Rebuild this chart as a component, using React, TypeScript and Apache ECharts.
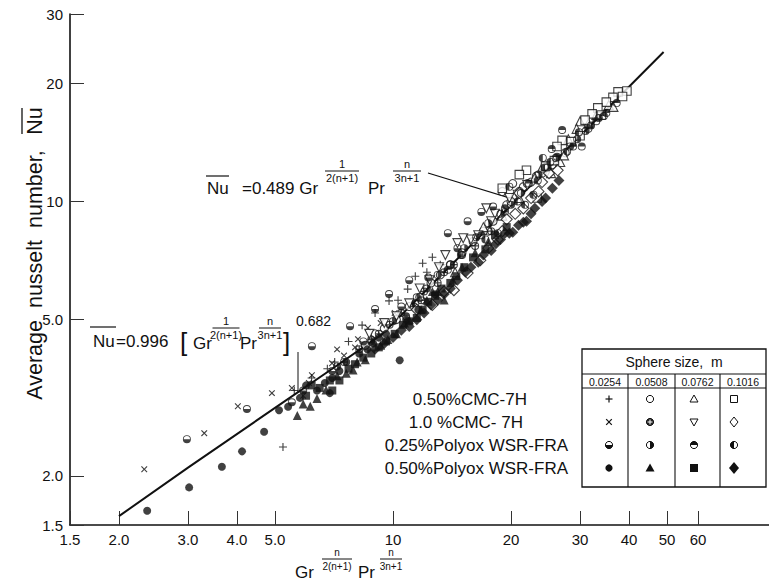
import React, { useEffect, useRef } from 'react';
import * as echarts from 'echarts';

const xTicks = [1.5, 2, 3, 4, 5, 10, 20, 30, 40, 50, 60];
const xTickLabels = ['1.5', '2.0', '3.0', '4.0', '5.0', '10', '20', '30', '40', '50', '60'];
const yTicks = [1.5, 2, 5, 10, 20, 30];
const yTickLabels = ['1.5', '2.0', '5.0', '10', '20', '30'];

const fitLine = [[2.0, 1.58], [3, 2.1], [5, 2.98], [7, 3.75], [9.4, 4.6], [20, 9.78], [49, 24]];

const cmc050_d0254 = [[5.24, 2.37], [8.34, 4.84], [9.77, 5.58], [10.9, 5.98], [11.4, 6.45], [11.9, 6.96], [12.6, 7.21], [6.2, 3.55], [7.1, 3.9], [5.6, 3.3], [6.8, 3.75], [13.2, 6.9], [9.0, 5.2], [10.3, 5.6], [7.7, 4.4], [12.2, 6.6]];
const cmc050_d0508 = [[8.5, 4.3], [9.5, 4.75], [11, 5.4], [12.5, 6.2], [14, 6.9], [16, 7.9], [18, 8.9], [19.5, 9.8], [20.5, 10.3], [21.5, 10.9], [22.5, 11.2], [24, 11.8], [19, 10.6], [20.2, 11.1], [22, 11.1], [17.5, 8.4], [10.2, 5.0], [11.7, 5.7], [13.2, 6.5], [15.0, 7.4], [17.0, 8.4], [23.2, 11.6], [25.5, 12.4], [27.5, 13.3], [9.0, 4.6], [20, 10.0], [21, 10.6]];
const cmc050_d0762 = [[30.0, 16.0], [29.4, 15.3], [26.7, 12.6], [25.3, 11.8], [28.0, 14.4], [14.4, 6.6], [17, 8.6], [19, 9.2], [21, 10.2], [23, 11.5], [31.5, 15.8], [33, 16.6], [24, 12.2], [27.3, 13.1], [35.5, 17.6], [36.5, 17.4]];
const cmc050_d1016 = [[39.5, 19.1], [37.5, 19.0], [36.4, 18.4], [35, 17.9], [33.3, 17.3], [32.2, 16.7], [30.9, 16.1], [27.0, 14.3], [23.3, 10.2], [21.9, 12.0], [21.0, 11.7], [19.0, 10.8], [24.5, 12.3], [28.5, 14.2], [30, 14.7], [25.8, 12.7], [34, 16.6], [38.5, 18.5], [26.2, 13.8]];

const cmc100_d0254 = [[2.32, 2.08], [3.30, 2.57], [4.02, 3.01], [4.91, 3.25], [5.52, 3.35], [6.21, 3.61], [6.99, 3.87], [8.14, 4.46], [8.63, 4.76], [6.1, 3.45], [5.9, 3.2], [7.5, 4.05], [9.3, 4.9], [10.1, 5.2], [7.2, 4.2], [8.0, 4.25]];
const cmc100_d0508 = [[7.5, 3.9], [9.2, 4.6], [10.5, 5.2], [12, 5.9], [13.5, 6.6], [15, 7.3], [8.2, 4.2], [11.3, 5.4], [9.8, 4.85], [11.8, 5.6], [13, 6.2], [14.3, 6.9], [16.2, 7.7], [17.8, 8.4], [8.8, 4.45], [19.3, 9.4]];
const cmc100_d0762 = [[14.6, 7.83], [15.1, 8.06], [13.6, 7.30], [12.4, 6.3], [16.5, 8.2], [18.2, 9.3], [19.8, 10.2], [11.0, 5.5], [10.2, 5.1], [17.3, 9.6], [11.7, 6.0], [13.1, 6.8], [15.8, 8.0], [17.8, 8.9], [20.8, 10.4], [22, 11], [9.5, 4.9], [8.7, 4.6]];
const cmc100_d1016 = [[15.5, 6.57], [14.3, 5.94], [12.6, 5.45], [16.7, 7.08], [18.5, 8.0], [20.5, 9.3], [22.5, 10.2], [21, 10.5], [24, 11.2], [19.5, 9.0], [13.5, 5.9], [17.5, 7.6], [19.0, 8.4], [21.5, 9.6], [23.5, 10.6], [25, 11.8], [26.3, 12.0], [11.5, 5.3]];

const pol025_d0254 = [[2.98, 2.48], [4.24, 2.96], [5.52, 3.08], [6.21, 4.28], [7.77, 4.81], [9.0, 5.32], [9.77, 5.81], [13.8, 8.30], [15.5, 8.9], [11.0, 6.3], [5.9, 3.3], [16.8, 9.4], [8.4, 4.4], [10.5, 5.4], [12.3, 6.4], [14.6, 7.6], [7.0, 3.7], [18, 9.7]];
const pol025_d0508 = [[7.2, 3.8], [8.8, 4.4], [10, 4.95], [11.5, 5.7], [13, 6.5], [15.2, 7.6], [17.5, 8.8], [20, 9.8], [23.5, 11.7], [26, 12.9], [28.3, 13.8], [31, 15.1], [33.5, 16.3], [12.2, 6.0], [14, 6.9], [16.3, 8.1], [18.8, 9.3], [21.2, 10.5], [24.8, 12.2], [29.5, 14.4], [32, 15.6]];
const pol025_d0762 = [[37.2, 17.8], [35.0, 16.8], [33.0, 16.0], [30.3, 13.8], [28.8, 13.8], [27.0, 15.2], [25.4, 13.6], [10.8, 5.1], [13.8, 6.7], [16.8, 8.2], [19.3, 9.6], [22.2, 11.1], [26.2, 13.0], [31.5, 15.3], [34.5, 16.5]];
const pol025_d1016 = [[24.1, 12.9], [25.2, 12.6], [24.4, 12.2], [21.7, 9.8], [18.5, 8.3], [19.8, 10.9], [17.2, 8.0], [22.8, 10.4], [11.4, 5.5], [14.9, 7.3], [20.8, 10.0], [23.4, 11.3], [27.8, 13.4], [29.8, 15.0]];

const pol050_d0254 = [[2.36, 1.63], [3.02, 1.87], [3.66, 2.11], [4.12, 2.31], [4.69, 2.59], [5.12, 2.94], [5.79, 3.16], [10.4, 3.94], [6.4, 3.3], [7.0, 3.55], [7.6, 3.9], [8.2, 4.1], [8.9, 4.35], [9.6, 4.6], [6.0, 3.4], [6.7, 3.45], [7.3, 3.7], [8.6, 4.2], [9.2, 4.5], [10.8, 5.0], [11.6, 5.3], [12.8, 5.8], [5.4, 3.0], [6.9, 3.25]];
const pol050_d0508 = [[6.15, 3.01], [6.75, 3.31], [7.91, 3.72], [13.5, 5.61], [7.2, 3.6], [8.5, 3.95], [9.3, 4.3], [10.2, 4.6], [11, 5.0], [11.8, 5.3], [12.6, 5.9], [14.2, 6.3], [5.7, 2.85], [6.4, 3.15], [7.6, 3.65], [8.1, 3.9], [9.7, 4.45], [10.7, 4.9], [12.2, 5.6], [13.0, 5.9], [15.0, 6.8], [16.2, 7.4], [17.5, 7.9], [5.9, 3.05]];
const pol050_d0762 = [[6.0, 3.2], [6.5, 3.35], [7.3, 3.5], [8.0, 3.85], [8.8, 4.1], [9.6, 4.4], [10.6, 4.85], [11.5, 5.05], [12.3, 5.55], [13.3, 6.0], [14.5, 6.45], [16, 7.2], [17.2, 7.55], [6.2, 3.4], [6.9, 3.5], [7.7, 3.75], [8.4, 4.0], [9.2, 4.25], [10.1, 4.6], [11.0, 4.95], [11.9, 5.3], [12.8, 5.75], [14.0, 6.2], [15.2, 6.8], [18.2, 8.2], [19.5, 8.6], [7.0, 3.3]];
const pol050_d1016 = [[21.9, 8.9], [20.9, 8.7], [19.8, 8.3], [21.5, 8.85], [20.2, 8.35], [9.0, 4.2], [10.0, 4.5], [11.0, 4.8], [12.0, 5.2], [13.0, 5.6], [14.0, 6.0], [15.3, 6.6], [16.5, 7.0], [17.8, 7.5], [18.8, 8.0], [23.0, 9.6], [24.5, 10.2], [9.5, 4.35], [10.5, 4.7], [11.5, 5.0], [12.5, 5.45], [13.5, 5.8], [14.6, 6.3], [15.8, 6.8], [17.0, 7.3], [18.3, 7.8], [19.3, 8.3], [22.5, 9.3], [24.0, 10.0], [25.5, 10.8], [26.5, 11.3]];

const fluidLabels = ['0.50%CMC-7H', '1.0 %CMC- 7H', '0.25%Polyox WSR-FRA', '0.50%Polyox WSR-FRA'];
const sizeLabels = ['0.0254', '0.0508', '0.0762', '0.1016'];

const FONT = 'Liberation Sans, Arial, sans-serif';
const INK = '#111';
const L = Math.log10;
const toLog = (a: number[][]) => a.map(([x, y]) => [L(x), L(y)]);

const PLUS = 'path://M-1.4,-10H1.4V-1.4H10V1.4H1.4V10H-1.4V1.4H-10V-1.4H-1.4Z';
const OPLUS = 'path://M0,-10A10,10,0,1,1,0,10A10,10,0,1,1,0,-10ZM0,-7.5A7.5,7.5,0,1,0,0,7.5A7.5,7.5,0,1,0,0,-7.5ZM-7.5,-1.6H7.5V1.6H-7.5ZM-1.6,-7.5H1.6V7.5H-1.6Z';
const HALF = 'path://M0,-10A10,10,0,1,1,0,10A10,10,0,1,1,0,-10ZM0,-7.8A7.8,7.8,0,1,0,0,7.8A7.8,7.8,0,1,0,0,-7.8ZM-7.8,0A7.8,7.8,0,0,0,7.8,0Z';

function labelFor(v: number, ticks: number[], labels: string[]) {
  for (let i = 0; i < ticks.length; i++) if (Math.abs(L(ticks[i]) - v) < 1e-6) return labels[i];
  return '';
}

type Def = { data: number[][]; symbol: string; size: number; rotate?: number; open?: boolean };
const defs: Def[] = [
  { data: cmc050_d0254, symbol: PLUS, size: 8 },
  { data: cmc050_d0508, symbol: 'circle', size: 8, open: true },
  { data: cmc050_d0762, symbol: 'triangle', size: 9, open: true },
  { data: cmc050_d1016, symbol: 'rect', size: 8.5, open: true },
  { data: cmc100_d0254, symbol: PLUS, size: 8, rotate: 45 },
  { data: cmc100_d0508, symbol: OPLUS, size: 8 },
  { data: cmc100_d0762, symbol: 'triangle', size: 9, rotate: 180, open: true },
  { data: cmc100_d1016, symbol: 'diamond', size: 11, open: true },
  { data: pol025_d0254, symbol: HALF, size: 8 },
  { data: pol025_d0508, symbol: HALF, size: 8, rotate: 90 },
  { data: pol025_d0762, symbol: HALF, size: 8, rotate: 180 },
  { data: pol025_d1016, symbol: HALF, size: 8, rotate: 270 },
  { data: pol050_d0254, symbol: 'circle', size: 8 },
  { data: pol050_d0508, symbol: 'triangle', size: 9 },
  { data: pol050_d0762, symbol: 'rect', size: 8 },
  { data: pol050_d1016, symbol: 'diamond', size: 11 },
];

function txt(text: string, x: number, y: number, size: number, align = 'left', extra: any = {}) {
  return {
    type: 'text', x, y, silent: true, ...extra,
    style: { text, font: `${size}px ${FONT}`, fill: INK, align, verticalAlign: 'middle', textAlign: align, textVerticalAlign: 'middle' },
  };
}
function ln(x1: number, y1: number, x2: number, y2: number, w = 1.2) {
  return { type: 'line', silent: true, shape: { x1, y1, x2, y2 }, style: { stroke: INK, lineWidth: w } };
}
function frac(num: string, den: string, cx: number, cy: number, w: number, fs = 11) {
  return [txt(num, cx, cy - 7, fs, 'center'), ln(cx - w / 2, cy, cx + w / 2, cy, 1), txt(den, cx, cy + 7, fs, 'center')];
}

function legendSymbol(kind: number, row: number, cx: number, cy: number): any[] {
  const r = 3.6;
  const sty = (fill: string) => ({ fill, stroke: INK, lineWidth: 1 });
  if (row === 0) {
    if (kind === 0) return [ln(cx - 3.5, cy, cx + 3.5, cy), ln(cx, cy - 3.5, cx, cy + 3.5)];
    if (kind === 1) return [{ type: 'circle', shape: { cx, cy, r }, style: sty('#fff') }];
    if (kind === 2) return [{ type: 'polygon', shape: { points: [[cx, cy - 4], [cx + 4, cy + 3], [cx - 4, cy + 3]] }, style: sty('#fff') }];
    return [{ type: 'rect', shape: { x: cx - 3.5, y: cy - 3.5, width: 7, height: 7 }, style: sty('#fff') }];
  }
  if (row === 1) {
    if (kind === 0) return [ln(cx - 2.8, cy - 2.8, cx + 2.8, cy + 2.8), ln(cx - 2.8, cy + 2.8, cx + 2.8, cy - 2.8)];
    if (kind === 1) return [
      { type: 'circle', shape: { cx, cy, r }, style: sty('#222') },
      { type: 'line', shape: { x1: cx - 2.5, y1: cy, x2: cx + 2.5, y2: cy }, style: { stroke: '#fff', lineWidth: 1 } },
      { type: 'line', shape: { x1: cx, y1: cy - 2.5, x2: cx, y2: cy + 2.5 }, style: { stroke: '#fff', lineWidth: 1 } },
    ];
    if (kind === 2) return [{ type: 'polygon', shape: { points: [[cx - 4, cy - 3], [cx + 4, cy - 3], [cx, cy + 4]] }, style: sty('#fff') }];
    return [{ type: 'polygon', shape: { points: [[cx, cy - 5], [cx + 4, cy], [cx, cy + 5], [cx - 4, cy]] }, style: sty('#fff') }];
  }
  if (row === 2) {
    const starts = [0, -Math.PI / 2, Math.PI, Math.PI / 2];
    const s = starts[kind];
    return [
      { type: 'circle', shape: { cx, cy, r }, style: sty('#fff') },
      { type: 'sector', shape: { cx, cy, r0: 0, r, startAngle: s, endAngle: s + Math.PI, clockwise: true }, style: { fill: INK } },
    ];
  }
  if (kind === 0) return [{ type: 'circle', shape: { cx, cy, r }, style: { fill: INK } }];
  if (kind === 1) return [{ type: 'polygon', shape: { points: [[cx, cy - 4.5], [cx + 4.5, cy + 3.5], [cx - 4.5, cy + 3.5]] }, style: { fill: INK } }];
  if (kind === 2) return [{ type: 'rect', shape: { x: cx - 4, y: cy - 4, width: 8, height: 8 }, style: { fill: INK } }];
  return [{ type: 'polygon', shape: { points: [[cx, cy - 6], [cx + 5, cy], [cx, cy + 6], [cx - 5, cy]] }, style: { fill: INK } }];
}

function buildGraphic() {
  const g: any[] = [];
  // y axis title
  g.push(txt('Average  nusselt  number,', 35, 275, 21.5, 'center', { rotation: Math.PI / 2 }));
  g.push(txt('Nu', 35, 121, 21.5, 'center', { rotation: Math.PI / 2 }));
  g.push(ln(22, 108, 22, 134, 1.3));
  // x axis title
  g.push(txt('Gr', 295, 572, 17));
  g.push(...frac('n', '2(n+1)', 337, 559, 30, 10));
  g.push(txt('Pr', 358, 572, 17));
  g.push(...frac('n', '3n+1', 391, 559, 22, 10));
  // annotation upper
  g.push(txt('Nu', 207, 188, 17));
  g.push(ln(206, 176, 229, 176, 1.2));
  g.push(txt('=0.489 Gr', 242, 188, 17));
  g.push(...frac('1', '2(n+1)', 342, 171, 34));
  g.push(txt('Pr', 368, 188, 17));
  g.push(...frac('n', '3n+1', 407, 171, 28));
  g.push(ln(428, 173, 513, 199, 1.2));
  // annotation lower
  g.push(txt('Nu', 93, 341, 17));
  g.push(ln(90, 327, 116, 327, 1.2));
  g.push(txt('=0.996', 116, 341, 17));
  g.push(txt('[', 180, 342, 26));
  g.push(txt('Gr', 193, 343, 17));
  g.push(...frac('1', '2(n+1)', 226, 328, 27));
  g.push(txt('Pr', 240, 343, 17));
  g.push(...frac('n', '3n+1', 270, 328, 22));
  g.push(txt(']', 283, 342, 26));
  g.push(txt('0.682', 296, 321, 14));
  g.push(ln(298, 352, 298, 393, 1));
  // fluid labels
  const rowsY = [399, 422, 445, 468];
  const labelRight = [527, 523, 568, 568];
  fluidLabels.forEach((t, i) => g.push(txt(t, labelRight[i], rowsY[i], 17, 'right')));
  // legend table
  const left = 582, right = 766, top = 349, hdr = 374, szl = 388, bottom = 487;
  const divs = [628, 675, 720];
  g.push({ type: 'rect', silent: true, shape: { x: left, y: top, width: right - left, height: bottom - top }, style: { fill: 'none', stroke: INK, lineWidth: 1.3 } });
  g.push(ln(left, hdr, right, hdr, 1.1));
  g.push(ln(left, szl, right, szl, 1.1));
  divs.forEach((d) => g.push(ln(d, hdr, d, bottom, 1.1)));
  g.push(txt('Sphere size,  m', (left + right) / 2, 362, 14, 'center'));
  const edges = [left, ...divs, right];
  const cxs = [609, 650, 694, 734];
  sizeLabels.forEach((t, i) => g.push(txt(t, (edges[i] + edges[i + 1]) / 2, 381.5, 10.5, 'center')));
  for (let row = 0; row < 4; row++) for (let k = 0; k < 4; k++) g.push(...legendSymbol(k, row, cxs[k], rowsY[row]));
  return g;
}

export default function App() {
  const ref = useRef<HTMLDivElement>(null);
  useEffect(() => {
    if (!ref.current) return;
    const chart = echarts.init(ref.current, undefined, { renderer: 'svg' });
    const series: any[] = [
      {
        type: 'line', data: toLog(fitLine), symbol: 'none', silent: true, z: 1,
        lineStyle: { color: INK, width: 2 },
      },
      ...defs.map((d) => ({
        type: 'scatter', data: toLog(d.data), symbol: d.symbol, symbolSize: d.size, symbolRotate: d.rotate || 0, silent: true, z: 3,
        itemStyle: d.open ? { color: '#fff', borderColor: INK, borderWidth: 1.1 } : { color: INK },
      })),
    ];
    chart.setOption({
      animation: false,
      backgroundColor: '#fff',
      grid: { left: 70, right: 0, top: 14, bottom: 58 },
      xAxis: {
        type: 'value', min: L(1.5), max: L(91),
        axisLine: { show: true, onZero: false, lineStyle: { color: INK, width: 1.6 } },
        axisTick: { show: true, inside: true, length: 14, customValues: xTicks.map(L), lineStyle: { color: '#333', width: 1 } },
        axisLabel: { customValues: xTicks.map(L), formatter: (v: number) => labelFor(v, xTicks, xTickLabels), color: INK, fontSize: 15, fontFamily: FONT, margin: 7 },
        splitLine: { show: false },
      },
      yAxis: {
        type: 'value', min: L(1.5), max: L(30),
        axisLine: { show: true, onZero: false, lineStyle: { color: INK, width: 1.6 } },
        axisTick: { show: true, inside: true, length: 14, customValues: yTicks.map(L), lineStyle: { color: '#333', width: 1 } },
        axisLabel: { customValues: yTicks.map(L), formatter: (v: number) => labelFor(v, yTicks, yTickLabels), color: INK, fontSize: 15, fontFamily: FONT, margin: 7 },
        splitLine: { show: false },
      },
      series,
      graphic: buildGraphic(),
    });
    return () => chart.dispose();
  }, []);
  return <div ref={ref} style={{ position: 'fixed', left: 0, top: 0, width: 769, height: 583 }} />;
}
